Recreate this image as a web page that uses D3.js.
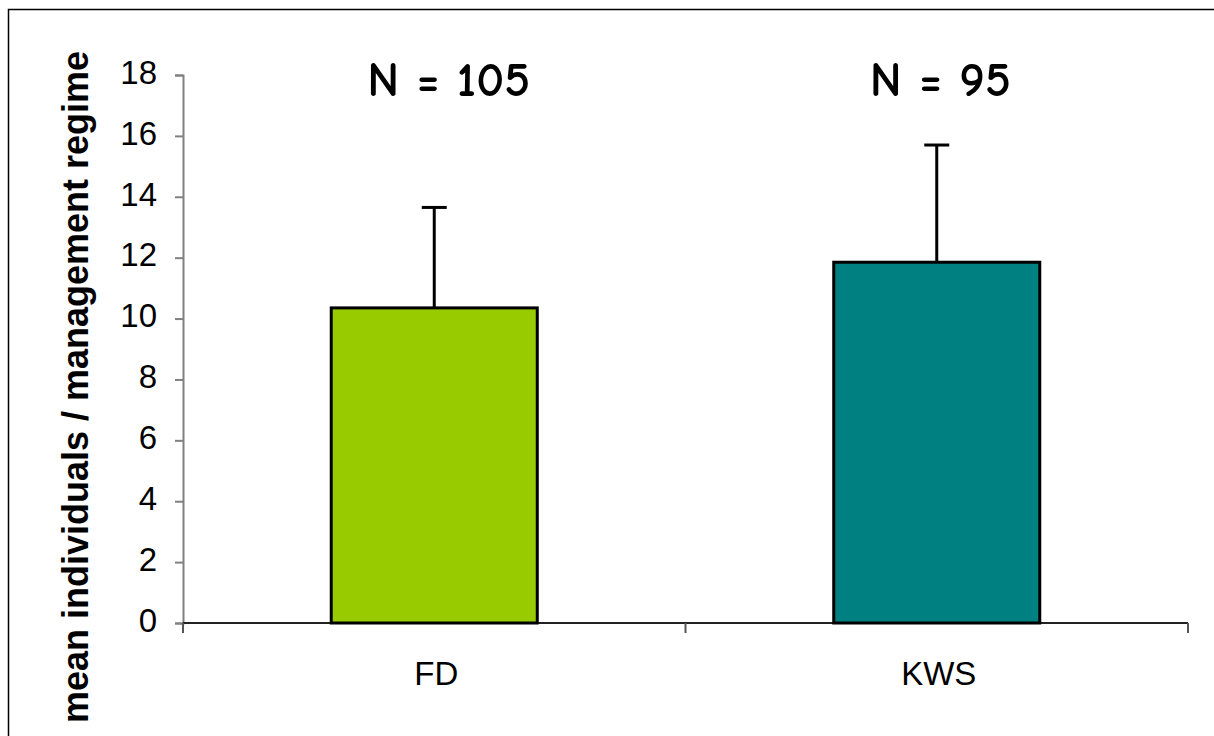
<!DOCTYPE html>
<html>
<head>
<meta charset="utf-8">
<script src="https://cdn.jsdelivr.net/npm/d3@7"></script>
<style>
  html, body { margin: 0; padding: 0; background: #fff; overflow: hidden; }
  svg { display: block; }
</style>
</head>
<body>
<svg id="chart" width="1214" height="736"></svg>
<script>
// Mean individuals per management regime, with standard-deviation whiskers
const categories = ["FD", "KWS"];
const meanValues = [10.35, 11.85];
const errorValues = [3.3, 3.85];
const sampleSizes = [105, 95];
const barColors = ["#99CC00", "#008080"];
const yTicks = [0, 2, 4, 6, 8, 10, 12, 14, 16, 18];
const yTitle = "mean individuals / management regime";

const svg = d3.select("#chart");

// Frame around the chart area
svg.append("rect")
  .attr("x", 8.5).attr("y", 9.5)
  .attr("width", 1400).attr("height", 1000)
  .attr("fill", "#fff")
  .attr("stroke", "#000").attr("stroke-width", 1.5);

const plot = { left: 183, right: 1188, top: 75, bottom: 623 };

const y = d3.scaleLinear().domain([0, 18]).range([plot.bottom, plot.top]);
const x = d3.scaleBand().domain(categories).range([plot.left, plot.right]).padding(0);
const barW = x.bandwidth() * 0.41;

// Y axis
const yAxis = d3.axisLeft(y).tickValues(yTicks).tickSize(8).tickPadding(18).tickFormat(d3.format("d"));
const gy = svg.append("g").attr("transform", `translate(${plot.left},0)`).call(yAxis);
gy.select(".domain").attr("stroke", "#808080").attr("stroke-width", 2);
gy.selectAll(".tick line").attr("stroke", "#808080").attr("stroke-width", 2);
gy.selectAll(".tick text")
  .attr("font-family", "'Liberation Sans', Arial, sans-serif")
  .attr("font-size", 33).attr("fill", "#000")
  .attr("dy", "0.25em");

// X axis baseline with category separators
svg.append("line")
  .attr("x1", plot.left).attr("x2", plot.right)
  .attr("y1", y(0)).attr("y2", y(0))
  .attr("stroke", "#222").attr("stroke-width", 2);
const sepX = categories.map(c => x(c)).concat([plot.right]);
svg.selectAll("line.sep").data(sepX).join("line")
  .attr("class", "sep")
  .attr("x1", d => d).attr("x2", d => d)
  .attr("y1", y(0)).attr("y2", y(0) + 10)
  .attr("stroke", "#555").attr("stroke-width", 2);

svg.selectAll("text.cat").data(categories).join("text")
  .attr("class", "cat")
  .attr("x", d => x(d) + x.bandwidth() / 2 + 2)
  .attr("y", 685)
  .attr("text-anchor", "middle")
  .attr("font-family", "'Liberation Sans', Arial, sans-serif")
  .attr("font-size", 33)
  .text(d => d);

const rows = categories.map((c, i) => ({ c, v: meanValues[i], e: errorValues[i], n: sampleSizes[i], col: barColors[i] }));

// Error whiskers (upper only)
svg.selectAll("line.err").data(rows).join("line")
  .attr("class", "err")
  .attr("x1", d => x(d.c) + x.bandwidth() / 2).attr("x2", d => x(d.c) + x.bandwidth() / 2)
  .attr("y1", d => y(d.v)).attr("y2", d => y(d.v + d.e))
  .attr("stroke", "#000").attr("stroke-width", 3);
svg.selectAll("line.cap").data(rows).join("line")
  .attr("class", "cap")
  .attr("x1", d => x(d.c) + x.bandwidth() / 2 - 12.5).attr("x2", d => x(d.c) + x.bandwidth() / 2 + 12.5)
  .attr("y1", d => y(d.v + d.e)).attr("y2", d => y(d.v + d.e))
  .attr("stroke", "#000").attr("stroke-width", 3);

// Bars
svg.selectAll("rect.bar").data(rows).join("rect")
  .attr("class", "bar")
  .attr("x", d => x(d.c) + (x.bandwidth() - barW) / 2)
  .attr("y", d => y(d.v))
  .attr("width", barW)
  .attr("height", d => y(0) - y(d.v))
  .attr("fill", d => d.col)
  .attr("stroke", "#000").attr("stroke-width", 3);

// Sample size labels
svg.selectAll("text.n").data(rows).join("text")
  .attr("class", "n")
  .attr("x", d => x(d.c) + x.bandwidth() / 2 - 67)
  .attr("y", 96)
  .attr("text-anchor", "start")
  .attr("font-family", "'Comic Sans MS', 'Comic Neue', 'Liberation Sans', Arial, sans-serif")
  .attr("font-size", 49)
  .attr("font-weight", "bold")
  .text(d => `N = ${d.n}`);

// Y axis title
svg.append("text")
  .attr("transform", `translate(88,387) rotate(-90)`)
  .attr("text-anchor", "middle")
  .attr("font-family", "'Liberation Sans', Arial, sans-serif")
  .attr("font-size", 36)
  .attr("font-weight", "bold")
  .text(yTitle);
</script>
</body>
</html>
